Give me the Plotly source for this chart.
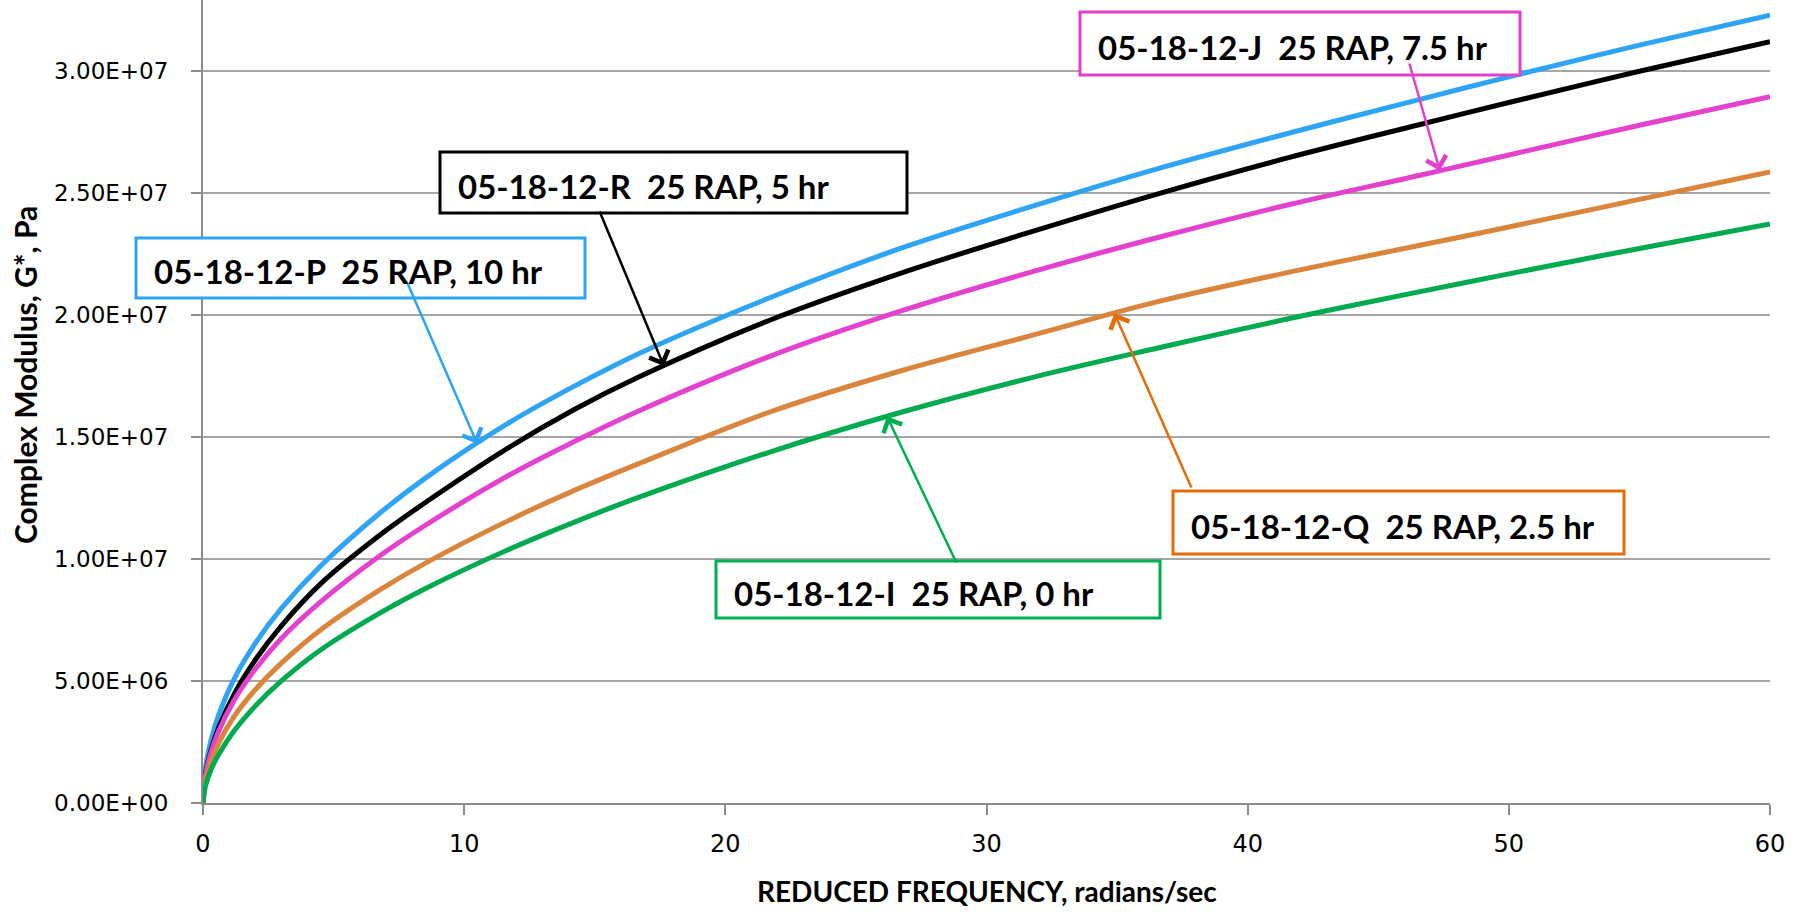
import numpy as np
import plotly.graph_objects as go

# ---------------- data ----------------
freq = [0, 0.1, 0.3, 0.6, 1.2, 2, 3, 4.5, 6.8, 8.5, 11.75, 14.2, 16.7, 21.7, 26.7,
        31.7, 36.6, 41.6, 46.6, 50, 55, 60]

g_P_10hr = [0, 1.47e6, 2.55e6, 3.61e6, 5.10e6, 6.54e6, 7.97e6, 9.71e6, 1.19e7, 1.33e7, 1.56e7,
            1.707e7, 1.842e7, 2.07e7, 2.272e7, 2.443e7, 2.60e7, 2.745e7, 2.883e7, 2.975e7, 3.105e7, 3.228e7]
g_R_5hr = [0, 1.2e6, 2.14e6, 3.09e6, 4.47e6, 5.86e6, 7.26e6, 8.98e6, 1.10e7, 1.23e7, 1.459e7,
           1.611e7, 1.746e7, 1.978e7, 2.17e7, 2.34e7, 2.497e7, 2.645e7, 2.78e7, 2.87e7, 2.998e7, 3.119e7]
g_J_7p5hr = [0, 1.15e6, 2.05e6, 2.94e6, 4.22e6, 5.48e6, 6.74e6, 8.24e6, 1.015e7, 1.137e7, 1.345e7,
             1.48e7, 1.607e7, 1.83e7, 2.015e7, 2.175e7, 2.318e7, 2.452e7, 2.572e7, 2.655e7, 2.777e7, 2.894e7]
g_Q_2p5hr = [0, 0.95e6, 1.69e6, 2.45e6, 3.56e6, 4.64e6, 5.73e6, 7.09e6, 8.75e6, 9.82e6, 1.16e7,
             1.28e7, 1.391e7, 1.602e7, 1.77e7, 1.915e7, 2.055e7, 2.175e7, 2.285e7, 2.36e7, 2.473e7, 2.585e7]
g_I_0hr = [0, 0.72e6, 1.35e6, 1.99e6, 2.97e6, 3.97e6, 5.0e6, 6.27e6, 7.8e6, 8.78e6, 1.041e7,
           1.15e7, 1.253e7, 1.438e7, 1.60e7, 1.742e7, 1.865e7, 1.985e7, 2.095e7, 2.168e7, 2.272e7, 2.372e7]

series_labels = ["05-18-12-P  25 RAP, 10 hr", "05-18-12-R  25 RAP, 5 hr",
                 "05-18-12-J  25 RAP, 7.5 hr", "05-18-12-Q  25 RAP, 2.5 hr",
                 "05-18-12-I  25 RAP, 0 hr"]

y_tick_vals = [0, 5e6, 1e7, 1.5e7, 2e7, 2.5e7, 3e7]
y_tick_text = ["0.00E+00", "5.00E+06", "1.00E+07", "1.50E+07", "2.00E+07", "2.50E+07", "3.00E+07"]
x_tick_vals = [0, 10, 20, 30, 40, 50, 60]

# ---------------- styling ----------------
W, H = 1807, 915
L, R, T, B = 203, 37, 0, 112
PW, PH = W - L - R, H - T - B
Y_MAX = 3.29e7

line_colors = ["#2EA4F6", "#000000", "#E442CE", "#DB843C", "#00AB4F"]
box_colors = ["#2EA4F6", "#000000", "#E23FCB", "#E46C0A", "#00B050"]
series = [g_P_10hr, g_R_5hr, g_J_7p5hr, g_Q_2p5hr, g_I_0hr]

def px_x(p):
    return (p - L) / PW

def px_y(p):
    return (H - B - p) / PH

def dx(p):
    return (p - L) / PW * 60.0

def dy(p):
    return (H - B - p) / PH * Y_MAX

# box rectangles in pixel coordinates (x0, y0, x1, y1)
boxes = [(136, 238, 585, 298), (440, 152, 907, 213), (1080, 12, 1520, 75),
         (1173, 491, 1624, 554), (716, 561, 1160, 618)]
# arrow tails in pixels, arrow head frequencies on the curves
arrow_tails = [(407, 282), (599, 210), (1409, 62), (1192, 489), (957, 564)]
arrow_head_x = [10.5, 17.65, 47.36, 34.9, 26.19]

fig = go.Figure()
for s, c in zip(series, line_colors):
    fig.add_trace(go.Scatter(x=freq, y=s, mode="lines",
                             line=dict(color=c, width=5, shape="spline", smoothing=1.0),
                             showlegend=False, hoverinfo="skip"))

shapes = []
annotations = []
for i in range(5):
    x0, y0, x1, y1 = boxes[i]
    shapes.append(dict(type="rect", xref="paper", yref="paper",
                       x0=px_x(x0), x1=px_x(x1), y0=px_y(y1), y1=px_y(y0),
                       line=dict(color=box_colors[i], width=3), fillcolor="white",
                       layer="above"))
    annotations.append(dict(xref="paper", yref="paper", x=px_x(x0 + 16),
                            y=px_y((y0 + y1) / 2 + 3), xanchor="left", yanchor="middle",
                            text=series_labels[i].replace("  ", " \u00a0"), showarrow=False,
                            font=dict(family="Lato", size=33, color="black", weight="bold")))
    hx = arrow_head_x[i]
    hy = float(np.interp(hx, freq, series[i]))
    tx, ty = arrow_tails[i]
    annotations.append(dict(x=hx, y=hy, xref="x", yref="y", ax=dx(tx), ay=dy(ty),
                            axref="x", ayref="y", text="", showarrow=True,
                            arrowhead=4, arrowsize=1.6, arrowwidth=2.5,
                            arrowcolor=box_colors[i], standoff=0))

# axis titles
annotations.append(dict(xref="paper", yref="paper", x=px_x(25), y=px_y(375),
                        text="Complex Modulus, G*, Pa", textangle=-90, showarrow=False,
                        xanchor="center", yanchor="middle",
                        font=dict(family="Lato", size=30, color="black", weight="bold")))
annotations.append(dict(xref="paper", yref="paper", x=0.5, y=px_y(891),
                        text="REDUCED FREQUENCY, radians/sec", showarrow=False,
                        xanchor="center", yanchor="middle",
                        font=dict(family="Lato", size=28, color="black", weight="bold")))

fig.update_layout(
    width=W, height=H,
    margin=dict(l=L, r=R, t=T, b=B, pad=0),
    paper_bgcolor="white", plot_bgcolor="white",
    shapes=shapes, annotations=annotations,
    xaxis=dict(range=[0, 60], tickvals=x_tick_vals, showgrid=False, zeroline=False,
               showline=True, linecolor="#8C8C8C", linewidth=2,
               ticks="outside", ticklen=10, tickwidth=1.5, tickcolor="#8C8C8C",
               ticklabelstandoff=8,
               tickfont=dict(family="DejaVu Sans", size=24, color="black")),
    yaxis=dict(range=[0, Y_MAX], tickvals=y_tick_vals, ticktext=y_tick_text,
               showgrid=True, gridcolor="#A6A6A6", gridwidth=2, zeroline=False,
               showline=True, linecolor="#8C8C8C", linewidth=2,
               ticks="outside", ticklen=10, tickwidth=1.5, tickcolor="#8C8C8C",
               ticklabelstandoff=18,
               tickfont=dict(family="DejaVu Sans", size=23, color="black")),
)

fig.write_html("out.html", config={"displayModeBar": False},
               post_script="document.body.style.margin='0px';")
